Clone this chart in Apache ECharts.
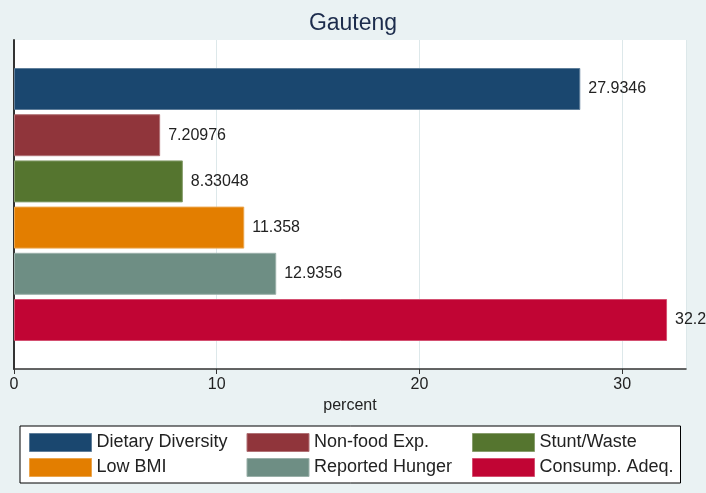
<!DOCTYPE html>
<html>
<head>
<meta charset="utf-8">
<script src="https://cdn.jsdelivr.net/npm/echarts@6/dist/echarts.min.js"></script>
<style>html,body{margin:0;padding:0;background:#eaf2f3;}#c{width:706px;height:493px;}</style>
</head>
<body>
<div id="c"></div>
<script>
const titleText = 'Gauteng';
const seriesNames = ['Dietary Diversity', 'Non-food Exp.', 'Stunt/Waste', 'Low BMI', 'Reported Hunger', 'Consump. Adeq.'];
const seriesValues = [27.9346, 7.20976, 8.33048, 11.358, 12.9356, 32.2153];
const seriesColors = ['#1a476f', '#90353b', '#55752f', '#e37e00', '#6e8e84', '#c10534'];
const xTicks = [0, 10, 20, 30];
const axisTitle = 'percent';

const FONT = '"Liberation Sans", Arial, sans-serif';
const chart = echarts.init(document.getElementById('c'), null, {renderer: 'canvas'});

const legendTextWidths = [144, 152, 137, 144, 152, 137];

function lighten(hex, t) {
  const n = parseInt(hex.slice(1), 16);
  const r = (n >> 16) & 255, g = (n >> 8) & 255, b = n & 255;
  const m = c => Math.round(c + (255 - c) * t);
  return 'rgb(' + m(r) + ',' + m(g) + ',' + m(b) + ')';
}

const series = seriesNames.map((name, i) => ({
  name: name,
  type: 'bar',
  data: [seriesValues[i]],
  barWidth: 42,
  barGap: '10%',
  itemStyle: {color: seriesColors[i], borderColor: lighten(seriesColors[i], 0.3), borderWidth: 1},
  label: {
    show: true, position: 'right', distance: 8,
    formatter: p => String(p.value),
    color: '#222', fontFamily: FONT, fontSize: 16
  },
  emphasis: {disabled: true}
}));

chart.setOption({
  backgroundColor: '#eaf2f3',
  animation: false,
  title: {
    text: titleText, left: 'center', top: 7,
    textStyle: {fontFamily: FONT, fontSize: 23, fontWeight: 'normal', color: '#1c2c4c'}
  },
  grid: {left: 14, right: 20, top: 40, bottom: 124, show: true, backgroundColor: '#ffffff', borderWidth: 0, containLabel: false},
  xAxis: {
    type: 'value', min: 0, max: 33.15, interval: 10,
    axisLine: {show: true, lineStyle: {color: '#333', width: 1.5}},
    axisTick: {show: true, length: 5, lineStyle: {color: '#333'}},
    axisLabel: {
      color: '#222', fontFamily: FONT, fontSize: 16, margin: 8,
      formatter: v => xTicks.includes(v) ? String(v) : '',
      showMaxLabel: false
    },
    splitLine: {show: true, lineStyle: {color: '#dde8ea', width: 1}},
    name: axisTitle, nameLocation: 'middle', nameGap: 27,
    nameTextStyle: {color: '#222', fontFamily: FONT, fontSize: 16}
  },
  yAxis: {
    type: 'category', data: [''], inverse: true,
    axisLine: {show: true, lineStyle: {color: '#333', width: 2}},
    axisTick: {show: false}, axisLabel: {show: false}, splitLine: {show: false}
  },
  legend: {
    left: 20, top: 426, width: 650,
    orient: 'horizontal',
    padding: [7, 4, 6, 9],
    borderColor: '#000', borderWidth: 1, backgroundColor: '#ffffff',
    itemWidth: 62, itemHeight: 18, itemGap: 6,
    icon: 'rect',
    selectedMode: false,
    textStyle: {color: '#222', fontFamily: FONT, fontSize: 18, overflow: 'none', lineHeight: 18},
    data: seriesNames.map((n, i) => ({
      name: n,
      itemStyle: {color: seriesColors[i], borderColor: lighten(seriesColors[i], 0.3), borderWidth: 1},
      textStyle: {width: legendTextWidths[i]}
    }))
  },
  series: series
});
</script>
</body>
</html>
